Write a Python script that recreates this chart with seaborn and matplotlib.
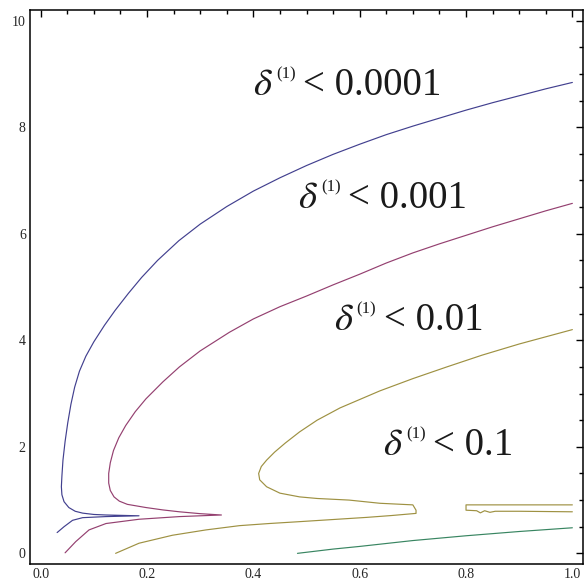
import numpy as np
import pandas as pd
import matplotlib
matplotlib.use("Agg")
import matplotlib.pyplot as plt
import seaborn as sns

# Contour levels shown in the labels
levels = ["0.0001", "0.001", "0.01", "0.1"]

# delta < 0.0001 contour
c1_x = [1.0, 0.95, 0.9, 0.85, 0.8, 0.75, 0.7, 0.65, 0.6, 0.55, 0.5, 0.45, 0.4, 0.35,
        0.3, 0.26, 0.22, 0.19, 0.165, 0.14, 0.12, 0.1, 0.085, 0.073, 0.064, 0.057,
        0.051, 0.046, 0.042, 0.04, 0.039, 0.04, 0.044, 0.053, 0.065, 0.079, 0.1,
        0.123, 0.185, 0.123, 0.079, 0.06, 0.044, 0.031]
c1_y = [8.84, 8.72, 8.59, 8.46, 8.32, 8.17, 8.02, 7.86, 7.68, 7.49, 7.28, 7.05, 6.80, 6.51,
        6.18, 5.87, 5.50, 5.18, 4.88, 4.56, 4.28, 3.97, 3.70, 3.42, 3.12, 2.80,
        2.45, 2.10, 1.75, 1.45, 1.25, 1.10, 0.97, 0.86, 0.79, 0.755, 0.73,
        0.72, 0.705, 0.69, 0.67, 0.62, 0.50, 0.39]

# delta < 0.001 contour
c2_x = [1.0, 0.95, 0.9, 0.85, 0.8, 0.75, 0.7, 0.65, 0.6, 0.55, 0.5, 0.45, 0.4, 0.355,
        0.3, 0.261, 0.23, 0.198, 0.178, 0.16, 0.147, 0.137, 0.131, 0.128, 0.128,
        0.131, 0.138, 0.148, 0.163, 0.198, 0.23, 0.261, 0.3, 0.34,
        0.261, 0.185, 0.123, 0.091, 0.066, 0.046]
c2_y = [6.57, 6.43, 6.28, 6.13, 5.97, 5.81, 5.64, 5.45, 5.24, 5.04, 4.83, 4.63, 4.40, 4.15,
        3.80, 3.50, 3.22, 2.90, 2.66, 2.40, 2.17, 1.93, 1.70, 1.50, 1.32,
        1.18, 1.06, 0.98, 0.92, 0.86, 0.815, 0.78, 0.745, 0.72,
        0.69, 0.64, 0.56, 0.44, 0.22, 0.01]

# delta < 0.01 contour (main piece and the detached sliver on the right)
c3_x = [0.141, 0.185, 0.248, 0.311, 0.374, 0.43, 0.487, 0.55, 0.613, 0.66, 0.706, 0.706,
        0.70, 0.638, 0.58, 0.52, 0.487, 0.45, 0.425, 0.412, 0.41, 0.415, 0.425, 0.44,
        0.46, 0.487, 0.52, 0.563, 0.638, 0.70, 0.764, 0.83, 0.9, 1.0]
c3_y = [0.0, 0.19, 0.34, 0.44, 0.52, 0.56, 0.595, 0.635, 0.675, 0.71, 0.75, 0.81,
        0.91, 0.94, 1.0, 1.03, 1.06, 1.13, 1.25, 1.38, 1.5, 1.63, 1.75, 1.90,
        2.07, 2.28, 2.50, 2.73, 3.05, 3.28, 3.50, 3.72, 3.93, 4.20]
c3b_x = [1.0, 0.80, 0.80, 0.82, 0.827, 0.835, 0.845, 0.855, 0.9, 1.0]
c3b_y = [0.91, 0.91, 0.81, 0.80, 0.76, 0.80, 0.77, 0.79, 0.79, 0.78]

# delta < 0.1 contour
c4_x = [0.483, 0.55, 0.6, 0.7, 0.8, 0.9, 1.0]
c4_y = [0.0, 0.08, 0.13, 0.24, 0.33, 0.41, 0.48]

# Label anchors: left edge and baseline of each label (data coordinates)
label_x = [0.399, 0.484, 0.551, 0.644]
label_y = [8.60, 6.48, 4.19, 1.84]

x_ticks = [0.0, 0.2, 0.4, 0.6, 0.8, 1.0]
y_ticks = [0, 2, 4, 6, 8, 10]

colors = [(0.26, 0.25, 0.56), (0.58, 0.25, 0.44), (0.62, 0.57, 0.26), (0.22, 0.52, 0.38)]

sns.set_style("white")
plt.rcParams["font.family"] = ["Liberation Serif", "DejaVu Serif"]
plt.rcParams["mathtext.fontset"] = "stix"

fig = plt.figure(figsize=(5.84, 5.88), dpi=100)
ax = fig.add_axes([30 / 584, 24 / 588, 553 / 584, 554 / 588])

segments = [
    (c1_x, c1_y, colors[0]),
    (c2_x, c2_y, colors[1]),
    (c3_x, c3_y, colors[2]),
    (c3b_x, c3b_y, colors[2]),
    (c4_x, c4_y, colors[3]),
]
for xs, ys, col in segments:
    df = pd.DataFrame({"x": xs, "y": ys})
    sns.lineplot(data=df, x="x", y="y", sort=False, estimator=None,
                 color=col, lw=0.85, ax=ax)

# Each label: italic delta, small "(1)" superscript, then "< value"
px = 0.72  # points per pixel at 100 dpi
for lev, lx, ly in zip(levels, label_x, label_y):
    common = dict(xy=(lx, ly), xycoords="data", textcoords="offset points",
                  ha="left", va="baseline", color="#1a1a1a")
    ax.annotate(r"$\delta$", xytext=(0, 0), fontsize=28, **common)
    ax.annotate("(1)", xytext=(23 * px, 17 * px), fontsize=12,
                family="Liberation Serif", **common)
    ax.annotate("< " + lev, xytext=(50 * px, 0), fontsize=28,
                family="Liberation Serif", **common)

ax.set_xlim(-0.02, 1.02)
ax.set_ylim(-0.2, 10.2)
ax.set_xlabel("")
ax.set_ylabel("")
ax.set_xticks(x_ticks)
ax.set_xticklabels([f"{v:.1f}" for v in x_ticks])
ax.set_yticks(y_ticks)
ax.set_yticklabels([str(v) for v in y_ticks])
ax.set_xticks(np.arange(0, 1.001, 0.05), minor=True)
ax.set_yticks(np.arange(0, 10.01, 0.5), minor=True)
ax.tick_params(which="both", direction="in", top=True, right=True,
               labelsize=10, color="black", width=1.0)
ax.tick_params(which="major", length=5, pad=3)
ax.tick_params(which="minor", length=3)
for s in ax.spines.values():
    s.set_color("black")
    s.set_linewidth(1.1)

fig.savefig("out.png", dpi=100)
